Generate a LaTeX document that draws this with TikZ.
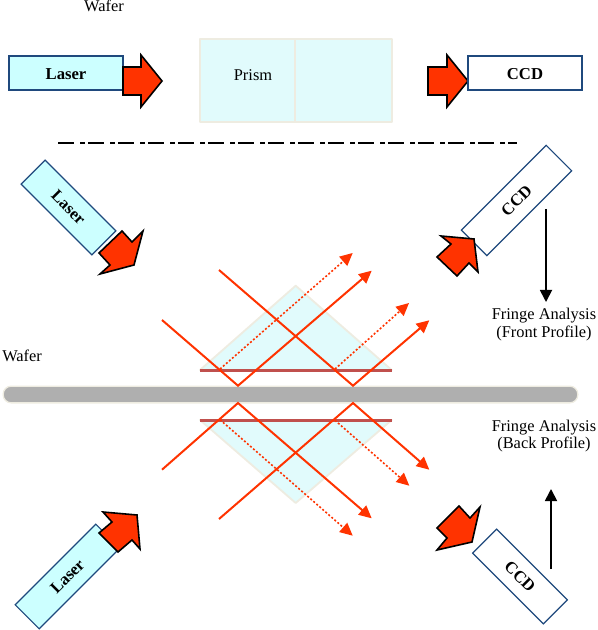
\documentclass[tikz,border=0pt]{standalone}
\usepackage{fontspec}
\setmainfont{Liberation Serif}
\usetikzlibrary{arrows.meta}
\definecolor{rayred}{RGB}{255,51,0}
\definecolor{boxblue}{RGB}{31,73,125}
\definecolor{laserfill}{RGB}{204,255,255}
\definecolor{prismfill}{RGB}{225,251,252}
\definecolor{prismedge}{RGB}{238,236,225}
\definecolor{filmred}{RGB}{192,80,77}
\definecolor{wafergray}{RGB}{175,175,175}
\tikzset{
  lasertop/.style={draw=boxblue,line width=1.6pt,fill=laserfill,minimum width=85pt,minimum height=25pt,inner sep=0pt,text height=10.5pt,text depth=0pt,font=\fontsize{12.5}{14}\selectfont\bfseries},
  ccdtop/.style={lasertop,fill=white},
  lasertilt/.style={draw=boxblue,line width=.9pt,fill=laserfill,minimum height=25.5pt,inner sep=0pt,font=\fontsize{12.5}{14}\selectfont\bfseries},
  ccdtilt/.style={lasertilt,fill=white},
  blockarr/.style={draw=black,line width=1.2pt,fill=rayred,line join=miter},
  prismbox/.style={draw=prismedge,line width=1.9pt,fill=prismfill,line join=round},
  film/.style={filmred,line width=2.4pt},
  ray/.style={rayred,line width=1.5pt,-{Triangle[length=9.5pt,width=9pt]}},
  dotray/.style={rayred,line width=1.2pt,dash pattern=on 1.5pt off 1.5pt,-{Triangle[length=9.5pt,width=9pt]}},
  label/.style={font=\fontsize{12.3}{13.3}\selectfont,align=center,inner sep=0pt},
  readout/.style={line width=1.3pt,-{Triangle[length=9pt,width=9pt]}}
}
\begin{document}
\begin{tikzpicture}[x=.75pt,y=-.75pt]
\useasboundingbox (0,0) rectangle (597,630);
\node[label] (waferA) at (104,6) {Wafer};
\node[lasertop] (laserA) at (66,73) {Laser};
\draw[blockarr] (123,67)--(141,67)--(141,55)--(162,81)--(141,107)--(141,95)--(123,95)--cycle;
\draw[prismbox] (200,39) rectangle (392,122);
\draw[prismedge,line width=1.5pt] (295,39)--(295,122);
\node[label] (prismA) at (253,75) {Prism};
\draw[blockarr] (428,67)--(447,67)--(447,55)--(468,81)--(447,107)--(447,95)--(428,95)--cycle;
\node[ccdtop] (ccdA) at (525,73) {CCD};
\draw[line width=1.6pt,dash pattern=on 12pt off 4.5pt on 3.75pt off 2.25pt] (58,143)--(517,143);

\node[lasertilt,minimum width=75pt,rotate=-45] (laserB) at (68.5,207.5) {Laser};
\draw[blockarr] (122,231)--(132,242)--(143,231)--(134,265)--(100,274)--(110,265)--(99,253)--cycle;
\node[ccdtilt,minimum width=90pt,minimum height=27pt,rotate=45] (ccdB) at (516.5,200.5) {CCD};
\draw[blockarr] (441,236)--(474,239)--(478,272)--(469,263)--(457,276)--(437,257)--(451,244)--cycle;
\coordinate (frontstart) at (546,209);
\coordinate (frontend) at (546,302);
\draw[readout] (frontstart)--(frontend);
\node[label] (frontlabel) at (544,324.5) {Fringe Analysis\\(Front Profile)};

\node[label,anchor=west] (waferB) at (2,356) {Wafer};
\node[draw=prismedge,line width=1pt,fill=wafergray,minimum width=431pt,minimum height=12.5pt,inner sep=0pt,rounded corners=6pt] (wafer) at (290.5,394.5) {};

\draw[prismbox,line width=1.4pt] (200,370)--(295.7,285.7)--(391.7,370)--cycle;
\draw[prismbox,line width=1.4pt] (200,420)--(295.7,503)--(391.7,420)--cycle;
\draw[film] (200,370.5)--(392,370.5);
\draw[film] (200,420.5)--(392,420.5);

\coordinate (inA) at (162,320);
\coordinate (hitA) at (238,385.7);
\coordinate (outA) at (371.7,270.7);
\coordinate (inB) at (219,270);
\coordinate (hitB) at (353,385.7);
\coordinate (outB) at (429.3,320.3);
\coordinate (dotA) at (220,369);
\coordinate (dotAend) at (352.7,253);
\coordinate (dotB) at (335,369);
\coordinate (dotBend) at (409,303);
\draw[ray] (inA)--(hitA)--(outA);
\draw[ray] (inB)--(hitB)--(outB);
\draw[dotray] (dotA)--(dotAend);
\draw[dotray] (dotB)--(dotBend);

\coordinate (inC) at (162,469.7);
\coordinate (hitC) at (238,403);
\coordinate (outC) at (371.7,518.3);
\coordinate (inD) at (219,519);
\coordinate (hitD) at (353,403);
\coordinate (outD) at (429.3,469.7);
\coordinate (dotC) at (220,419.7);
\coordinate (dotCend) at (352.7,535.7);
\coordinate (dotD) at (335,420.3);
\coordinate (dotDend) at (409.3,485.7);
\draw[ray] (inC)--(hitC)--(outC);
\draw[ray] (inD)--(hitD)--(outD);
\draw[dotray] (dotC)--(dotCend);
\draw[dotray] (dotD)--(dotDend);

\node[label] (backlabel) at (544,436) {Fringe Analysis\\(Back Profile)};
\coordinate (backstart) at (551,569);
\coordinate (backend) at (551,489);
\draw[readout] (backstart)--(backend);
\draw[blockarr] (459,506)--(470,518)--(480,507)--(472,542)--(437,550)--(447,538)--(437,528)--cycle;
\node[ccdtilt,minimum width=75pt,rotate=-45] (ccdC) at (520,576.5) {CCD};
\node[lasertilt,minimum width=85.5pt,rotate=45] (laserC) at (67.5,576.5) {Laser};
\draw[blockarr] (103,512)--(137,515)--(140,549)--(132,540)--(118,552)--(99,533)--(112,522)--cycle;
\end{tikzpicture}
\end{document}
